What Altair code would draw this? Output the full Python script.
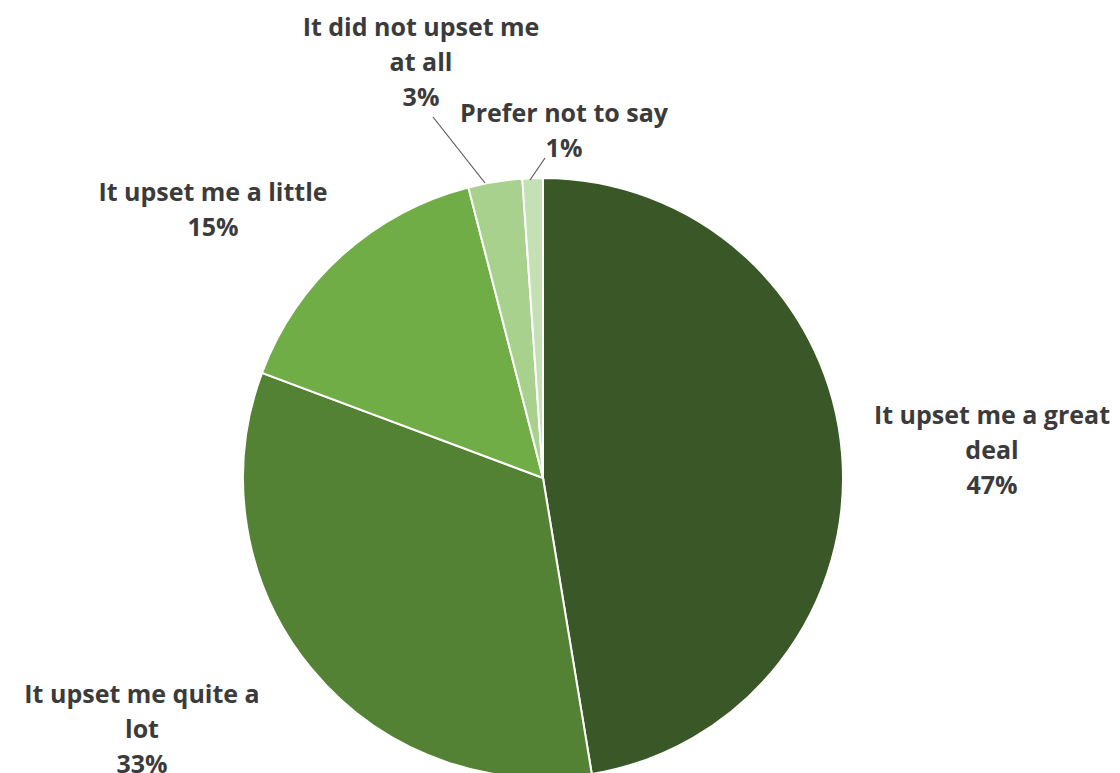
import altair as alt
import pandas as pd

categories = ["It upset me a great deal", "It upset me quite a lot", "It upset me a little",
              "It did not upset me at all", "Prefer not to say"]
values = [47.4, 33.3, 15.3, 2.9, 1.1]
pct_labels = ["47%", "33%", "15%", "3%", "1%"]
colors = ["#3A5728", "#548235", "#70AD47", "#A9D18E", "#C5E0B4"]

df = pd.DataFrame({"category": categories, "value": values, "order": list(range(len(categories)))})

W, H = 1104, 765
CX, CY, R = 535, 470, 300

pie = alt.Chart(df).mark_arc(radius=R, stroke="white", strokeWidth=2).encode(
    theta=alt.Theta("value:Q", stack=True),
    order=alt.Order("order:Q"),
    color=alt.Color("category:N", sort=categories,
                    scale=alt.Scale(domain=categories, range=colors), legend=None),
    x=alt.value(CX), y=alt.value(CY),
)

FONT = "Open Sans"
label_specs = [
    (["It upset me a great", "deal", pct_labels[0]], 984, 396),
    (["It upset me quite a", "lot", pct_labels[1]], 134, 675),
    (["It upset me a little", pct_labels[2]], 205, 173),
    (["It did not upset me", "at all", pct_labels[3]], 413, 8),
    (["Prefer not to say", pct_labels[4]], 556, 94),
]
layers = [pie]
for lines, lx, ly in label_specs:
    layers.append(
        alt.Chart(pd.DataFrame({"t": ["\n".join(lines)]})).mark_text(
            font=FONT, fontSize=25, fontWeight="bold", color="#3B3B3B",
            align="center", baseline="top", lineBreak="\n", lineHeight=35,
        ).encode(text="t:N", x=alt.value(lx), y=alt.value(ly))
    )

leader_specs = [(425, 109, 477, 175), (537, 150, 522, 172)]
for x1, y1, x2, y2 in leader_specs:
    layers.append(
        alt.Chart(pd.DataFrame({"a": [0]})).mark_rule(color="#595959", strokeWidth=1.2).encode(
            x=alt.value(x1), y=alt.value(y1), x2=alt.value(x2), y2=alt.value(y2))
    )

chart = alt.layer(*layers).properties(
    width=W, height=H, autosize=alt.AutoSizeParams(type="none"), padding=0,
    background="white"
).configure_view(stroke=None)

chart.save("out.html", embed_options={"renderer": "svg", "actions": False})
